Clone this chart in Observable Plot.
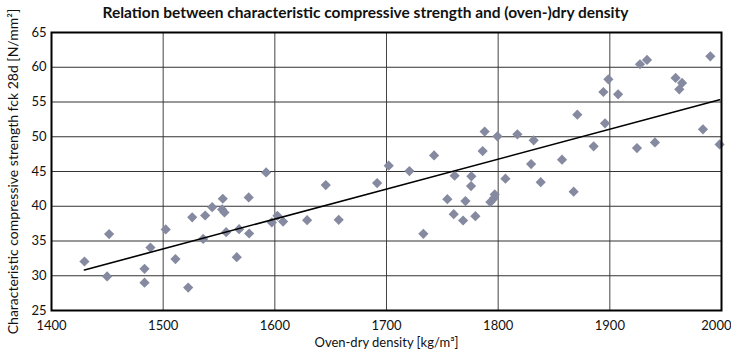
<!DOCTYPE html>
<html>
<head>
<meta charset="utf-8">
<script src="https://cdn.jsdelivr.net/npm/d3@7"></script>
<script src="https://cdn.jsdelivr.net/npm/@observablehq/plot@0.6"></script>
<style>
  html, body { margin: 0; padding: 0; background: #fff; }
  #title { height: 22px; line-height: 24px; text-align: center; font-family: Lato, "Open Sans", sans-serif; font-weight: bold; font-size: 15.5px; color: #111; width: 731px; white-space: nowrap; }
  #chart svg { overflow: visible; background: transparent !important; }
</style>
</head>
<body>
<div id="title">Relation between characteristic compressive strength and (oven-)dry density</div>
<div id="chart"></div>
<script>
const density = [
  1429.5, 1451.6, 1449.8, 1488.6, 1483.3, 1483.3, 1502.3, 1511.0,
  1522.4, 1526.0, 1535.8, 1537.6, 1543.9, 1553.4, 1552.8, 1554.9, 1556.4, 1565.9, 1568.0, 1576.6, 1577.0,
  1592.2, 1597.3, 1602.3, 1607.4,
  1628.9, 1645.6, 1657.2, 1691.6, 1702.0, 1720.5, 1733.0, 1742.6, 1754.5,
  1761.0, 1760.2, 1768.6, 1770.7, 1776.0, 1775.7, 1779.6, 1786.1, 1787.9, 1793.0, 1796.3, 1796.9, 1799.3,
  1806.5, 1817.2, 1831.8, 1829.5, 1838.1, 1857.2, 1867.6, 1870.9,
  1885.5, 1895.7, 1894.2, 1898.7, 1907.4, 1924.3, 1927.0, 1933.3, 1940.4,
  1958.9, 1964.7, 1962.2, 1983.4, 1990.0, 1998.3
];
const strength = [
  32.05, 36.0, 29.9, 34.06, 31.0, 29.0, 36.66, 32.4,
  28.3, 38.4, 35.3, 38.67, 39.87, 41.08, 39.54, 39.1, 36.27, 32.67, 36.7, 41.27, 36.08,
  44.87, 37.67, 38.63, 37.8,
  38.0, 43.04, 38.05, 43.33, 45.84, 45.06, 36.04, 47.32, 41.02,
  44.4, 38.86, 37.95, 40.74, 44.3, 42.9, 38.57, 47.94, 50.74, 40.6, 41.17, 41.7, 50.06,
  43.96, 50.35, 49.48, 46.07, 43.47, 46.7, 42.09, 53.18,
  48.62, 51.93, 56.44, 58.27, 56.1, 48.37, 60.43, 61.05, 49.19,
  58.46, 57.74, 56.83, 51.07, 61.58, 48.9
];
const xTicks = [1400, 1500, 1600, 1700, 1800, 1900, 2000];
const yTicks = [25, 30, 35, 40, 45, 50, 55, 60, 65];
const xLabel = "Oven-dry density [kg/m³]";
const yLabel = "Characteristic compressive strength fck 28d [N/mm²]";

const data = density.map((d, i) => ({density: d, strength: strength[i]}));

const chart = Plot.plot({
  width: 731,
  height: 330,
  marginLeft: 51,
  marginRight: 10,
  marginTop: 10,
  marginBottom: 42,
  style: {fontFamily: "Lato, 'Open Sans', sans-serif", fontSize: "13px", color: "#111", overflow: "visible"},
  x: {domain: [1400, 2000]},
  y: {domain: [25, 65]},
  marks: [
    Plot.gridX(xTicks, {stroke: "#444", strokeOpacity: 1, strokeWidth: 1}),
    Plot.gridY(yTicks, {stroke: "#333", strokeOpacity: 1, strokeWidth: 1}),
    Plot.axisX(xTicks.slice(0, -1), {tickSize: 0, tickPadding: 10, tickFormat: d => String(d), label: xLabel, labelAnchor: "center", labelArrow: "none", labelOffset: 36}),
    Plot.axisX(xTicks.slice(-1), {tickSize: 0, tickPadding: 10, tickFormat: d => String(d), textAnchor: "end", dx: 10, label: null}),
    Plot.axisY(yTicks, {tickSize: 0, tickPadding: 5, tickFormat: d => String(d), label: yLabel, labelAnchor: "center", labelArrow: "none", labelOffset: 43}),
    Plot.dot(data, {x: "density", y: "strength", symbol: "diamond2", r: 4.6, fill: "#858aa0", stroke: "none"}),
    Plot.linearRegressionY(data, {x: "density", y: "strength", ci: 0, stroke: "#000", strokeWidth: 1.6}),
    Plot.frame({stroke: "#000", strokeWidth: 2})
  ]
});
document.getElementById("chart").appendChild(chart);
// enlarge the y-axis label to match the reference proportions
chart.querySelectorAll("text").forEach(t => {
  if (t.textContent === yLabel) t.style.fontSize = "14px";
});
</script>
</body>
</html>
